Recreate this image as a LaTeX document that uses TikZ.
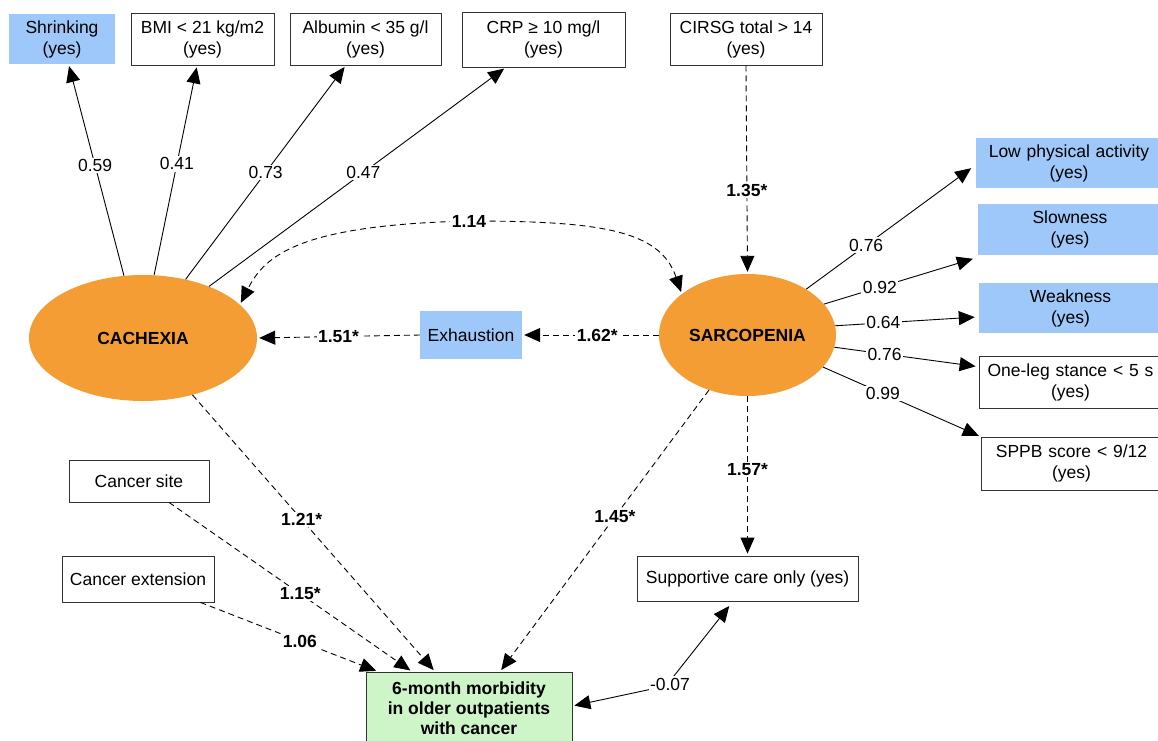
\documentclass[tikz,border=0pt]{standalone}
\usepackage{fontspec}
\setmainfont{Liberation Sans}
\usetikzlibrary{arrows.meta,shapes.geometric}
\definecolor{orng}{RGB}{243,157,52}
\definecolor{lblue}{RGB}{158,200,249}
\definecolor{lgreen}{RGB}{206,245,200}
\begin{document}
\begin{tikzpicture}[x=1pt,y=-1pt,
  font=\fontsize{17.5}{21}\selectfont,
  >={Triangle[length=16pt,width=14pt]},
  box/.style={draw=black!80, line width=0.8pt, align=center, inner sep=0pt},
  bbox/.style={fill=lblue, align=center, inner sep=0pt},
  lat/.style={ellipse, fill=orng, inner sep=0pt, font=\bfseries\fontsize{17.5}{21}\selectfont},
  con/.style={line width=0.9pt, shorten >=2pt},
  dsh/.style={con, dash pattern=on 6pt off 4pt},
  lbl/.style={fill=white, inner sep=1.5pt},
  blbl/.style={lbl, font=\bfseries\fontsize{17.5}{21}\selectfont}]
\useasboundingbox (0,0) rectangle (1158,740);

% top boxes
\node[bbox, minimum width=106pt, minimum height=50pt] (shrink) at (62,39) {Shrinking\\(yes)};
\node[box, minimum width=143pt, minimum height=52pt] (bmi) at (202.5,39) {BMI < 21 kg/m2\\(yes)};
\node[box, minimum width=151pt, minimum height=52pt] (alb) at (365.5,39) {Albumin < 35 g/l\\(yes)};
\node[box, minimum width=163pt, minimum height=55pt] (crp) at (543.5,39.5) {CRP ≥ 10 mg/l\\(yes)};
\node[box, minimum width=152pt, minimum height=52pt] (cirsg) at (746,39) {CIRSG total > 14\\(yes)};

% right boxes
\node[bbox, minimum width=186pt, minimum height=50pt, text width=186pt] (low) at (1069,163) {Low physical activity\\(yes)};
\node[bbox, minimum width=184pt, minimum height=51pt, text width=184pt] (slow) at (1070,229.5) {Slowness\\(yes)};
\node[bbox, minimum width=183pt, minimum height=50pt, text width=183pt] (weak) at (1070.5,308) {Weakness\\(yes)};
\node[box, minimum width=183pt, minimum height=52pt, text width=183pt] (oneleg) at (1070.5,382) {One-leg stance < 5 s\\(yes)};
\node[box, minimum width=181pt, minimum height=53pt, text width=181pt] (sppb) at (1071.5,463.5) {SPPB score < 9/12\\(yes)};

% latent variables
\node[lat, minimum width=228pt, minimum height=126pt] (cach) at (143,338) {CACHEXIA};
\node[lat, minimum width=177pt, minimum height=122pt] (sarc) at (747.5,335) {SARCOPENIA};

\node[bbox, minimum width=102pt, minimum height=48pt] (exh) at (471,335) {Exhaustion};

% lower boxes
\node[box, minimum width=140pt, minimum height=42pt] (site) at (139,481) {Cancer site};
\node[box, minimum width=152pt, minimum height=46pt] (ext) at (138,579) {Cancer extension};
\node[box, minimum width=221pt, minimum height=45pt] (supp) at (747.5,578.5) {Supportive care only (yes)};
\node[box, fill=lgreen, minimum width=206pt, minimum height=72pt, font=\bfseries\fontsize{17.5}{20}\selectfont] (out) at (469,708) {6-month morbidity\\in older outpatients\\with cancer};

% cachexia indicators
\draw[con,->] (cach.107) -- node[lbl,pos=.52]{0.59} (shrink);
\draw[con,->] (cach.80) -- node[lbl,pos=.53]{0.41} (bmi);
\draw[con,->] (cach.54) -- node[lbl,pos=.50]{0.73} (alb);
\draw[con,->] (cach.38) -- node[lbl,pos=.52]{0.47} (crp);

% sarcopenia indicators
\draw[con,->] (sarc.38) -- node[lbl,pos=.36]{0.76} ([xshift=-3pt,yshift=-4pt]low.west);
\draw[con,->] (sarc.22) -- node[lbl,pos=.37]{0.92} ([xshift=-3pt,yshift=-3pt]slow.south west);
\draw[con,->] (sarc.6) -- node[lbl,pos=.34]{0.64} ([xshift=-2pt,yshift=-9pt]weak.west);
\draw[con,->] (sarc.352) -- node[lbl,pos=.35]{0.76} ([xshift=-1pt,yshift=-11pt]oneleg.north west);
\draw[con,->] (sarc.337) -- node[lbl,pos=.38]{0.99} (sppb.north west);

% dashed paths
\draw[dsh,->] (cirsg.south) -- node[blbl,pos=.6]{1.35*} (sarc.north);
\draw[dsh,->] (sarc.south) -- node[blbl,pos=.46]{1.57*} (supp.north);
\draw[dsh,->] (exh.west) -- node[blbl,pos=.5]{1.51*} (cach.east);
\draw[dsh,->] (sarc.west) -- node[blbl,pos=.45]{1.62*} (exh.east);

\coordinate (m114) at (469,221);
\draw[dsh,<->,shorten <=2pt] (sarc.148) .. controls (660,230) and (600,221) .. (m114) .. controls (300,225) and (265,255) .. (cach.19);
\node[blbl] at (m114) {1.14};

\draw[dsh,->] (cach.311) -- node[blbl,pos=.45]{1.21*} ([xshift=-34pt]out.north);
\draw[dsh,->] (sarc.235) -- node[blbl,pos=.45]{1.45*} ([xshift=31pt]out.north);
\draw[dsh,->] ([xshift=30pt]site.south) -- node[blbl,pos=.54]{1.15*} ([xshift=-57pt]out.north);
\draw[dsh,->] ([xshift=-14pt]ext.south east) -- node[blbl,pos=.56]{1.06} ([xshift=-91pt]out.north);

% correlation outcome - supportive care
\coordinate (m07) at (666,686);
\draw[con,<->,shorten <=2pt] ([yshift=2pt]out.east) -- (m07) -- ([xshift=-17pt,yshift=-3pt]supp.south);
\node[lbl] at (670,684) {-0.07};
\end{tikzpicture}
\end{document}
